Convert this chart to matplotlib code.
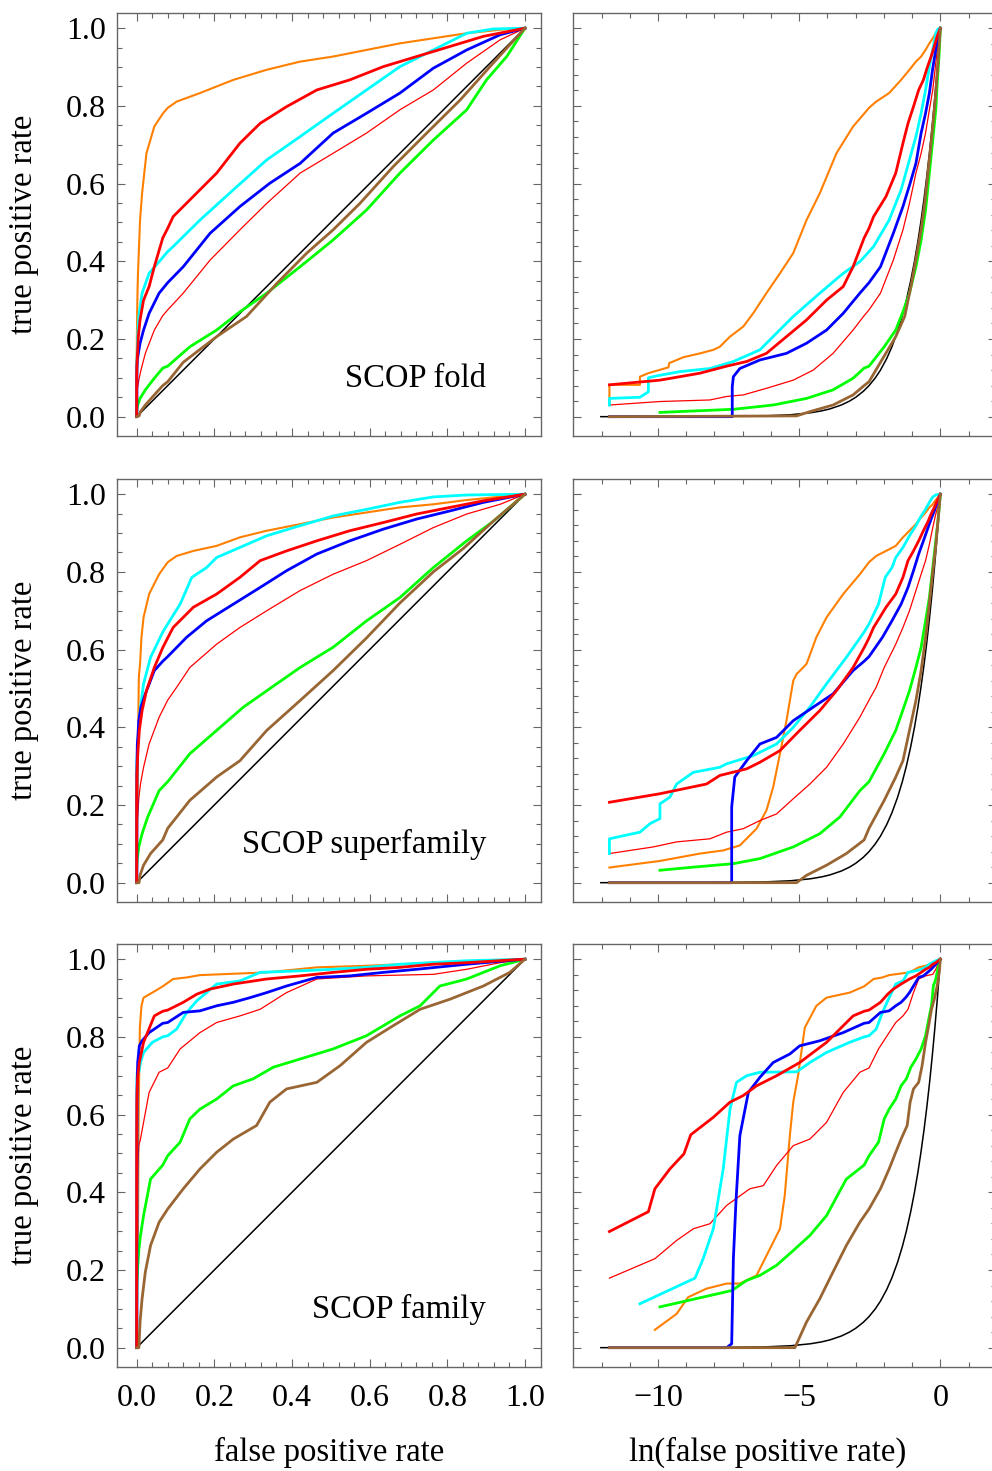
import numpy as np
import matplotlib
matplotlib.use('Agg')
from matplotlib import pyplot as plt
from matplotlib.ticker import FixedLocator, FormatStrFormatter

plt.rcParams['font.family'] = ['Liberation Serif', 'DejaVu Serif']
plt.rcParams['font.size'] = 23

#each curve: low fpr part read on the ln scale (ln, lo), rest read on the linear scale (fpr, tpr)

#SCOP fold
fold_orange_ln = [-11.72, -11.72, -10.64, -10.64, -10.34, -9.63, -9.6, -9.1, -8.51, -8.04, -7.81, -7.45, -6.98, -6.63, -6.16, -5.68, -5.21, -4.74, -4.27, -3.68, -3.09, -2.7]
fold_orange_lo = [0.03, 0.082, 0.082, 0.103, 0.112, 0.127, 0.138, 0.153, 0.163, 0.172, 0.18, 0.206, 0.232, 0.266, 0.318, 0.369, 0.421, 0.506, 0.575, 0.678, 0.747, 0.78]
fold_orange_fpr = [0.08, 0.103, 0.163, 0.249, 0.335, 0.421, 0.506, 0.592, 0.678, 0.764, 0.85, 0.936, 1.0]
fold_orange_tpr = [0.795, 0.811, 0.833, 0.867, 0.893, 0.914, 0.927, 0.944, 0.961, 0.974, 0.987, 0.996, 1.0]

fold_red_ln = [-11.72, -9.93, -8.51, -7.57, -6.86, -6.16, -5.45, -4.74, -4.03, -3.44, -3.09, -2.7]
fold_red_lo = [0.082, 0.094, 0.112, 0.13, 0.142, 0.163, 0.206, 0.249, 0.3, 0.335, 0.386, 0.46]
fold_red_fpr = [0.08, 0.094, 0.146, 0.206, 0.266, 0.318, 0.386, 0.464, 0.549, 0.635, 0.721, 0.807, 0.893, 1.0]
fold_red_tpr = [0.485, 0.515, 0.567, 0.627, 0.704, 0.755, 0.798, 0.841, 0.867, 0.901, 0.927, 0.953, 0.979, 1.0]

fold_cyan_ln = [-11.72, -11.72, -10.64, -10.34, -10.34, -10.05, -9.22, -8.16, -7.33, -6.39, -5.8, -5.21, -4.27, -3.44, -2.85]
fold_cyan_lo = [0.03, 0.047, 0.05, 0.064, 0.1, 0.105, 0.116, 0.124, 0.142, 0.172, 0.215, 0.258, 0.318, 0.369, 0.399]
fold_cyan_fpr = [0.08, 0.094, 0.163, 0.249, 0.335, 0.421, 0.506, 0.592, 0.678, 0.764, 0.85, 0.918, 1.0]
fold_cyan_tpr = [0.425, 0.438, 0.506, 0.584, 0.661, 0.721, 0.781, 0.841, 0.901, 0.944, 0.987, 0.998, 1.0]

fold_blue_ln = [-11.72, -7.37, -7.37, -7.33, -7.1, -6.39, -5.45, -4.74, -4.03, -3.44, -2.85]
fold_blue_lo = [0.0, 0.0, 0.077, 0.103, 0.124, 0.146, 0.163, 0.189, 0.223, 0.266, 0.318]
fold_blue_fpr = [0.08, 0.12, 0.189, 0.266, 0.343, 0.421, 0.506, 0.592, 0.678, 0.764, 0.85, 0.936, 1.0]
fold_blue_tpr = [0.345, 0.386, 0.472, 0.541, 0.601, 0.652, 0.73, 0.781, 0.833, 0.897, 0.944, 0.983, 1.0]

fold_thin_ln = [-11.72, -9.93, -8.16, -7.57, -6.98, -6.16, -5.21, -4.5, -3.8, -3.09, -2.7]
fold_thin_lo = [0.03, 0.039, 0.043, 0.052, 0.056, 0.073, 0.094, 0.12, 0.163, 0.223, 0.26]
fold_thin_fpr = [0.08, 0.12, 0.189, 0.266, 0.335, 0.421, 0.506, 0.592, 0.678, 0.764, 0.85, 0.936, 1.0]
fold_thin_tpr = [0.275, 0.318, 0.403, 0.481, 0.549, 0.627, 0.678, 0.73, 0.79, 0.841, 0.91, 0.97, 1.0]

fold_green_ln = [-9.93, -7.33, -5.92, -4.74, -3.8, -3.09, -2.7]
fold_green_lo = [0.011, 0.019, 0.03, 0.047, 0.069, 0.099, 0.125]
fold_green_fpr = [0.08, 0.137, 0.206, 0.266, 0.335, 0.421, 0.506, 0.592, 0.678, 0.764, 0.85, 0.901, 0.953, 1.0]
fold_green_tpr = [0.13, 0.18, 0.223, 0.27, 0.318, 0.386, 0.455, 0.532, 0.627, 0.712, 0.79, 0.867, 0.927, 1.0]

fold_brown_ln = [-11.72, -5.09, -4.62, -3.8, -3.09, -2.7]
fold_brown_lo = [0.0, 0.002, 0.013, 0.03, 0.056, 0.08]
fold_brown_fpr = [0.08, 0.12, 0.206, 0.283, 0.361, 0.438, 0.506, 0.575, 0.661, 0.747, 0.833, 0.918, 1.0]
fold_brown_tpr = [0.09, 0.14, 0.206, 0.258, 0.343, 0.421, 0.481, 0.549, 0.644, 0.73, 0.815, 0.91, 1.0]

#SCOP superfamily
sf_orange_ln = [-11.72, -9.93, -8.51, -7.69, -7.1, -6.51, -6.16, -5.92, -5.68, -5.45, -5.21, -5.09, -4.74, -4.39, -4.03, -3.44, -2.85]
sf_orange_lo = [0.039, 0.056, 0.075, 0.083, 0.096, 0.139, 0.186, 0.246, 0.332, 0.417, 0.52, 0.537, 0.563, 0.632, 0.683, 0.743, 0.794]
sf_orange_fpr = [0.08, 0.103, 0.146, 0.206, 0.266, 0.335, 0.421, 0.506, 0.592, 0.678, 0.764, 0.85, 1.0]
sf_orange_tpr = [0.825, 0.841, 0.854, 0.867, 0.889, 0.906, 0.923, 0.94, 0.953, 0.966, 0.974, 0.985, 1.0]

sf_red_ln = [-11.72, -9.93, -8.28, -7.81, -6.86, -6.39, -5.68, -4.98, -4.27, -3.68, -3.09, -2.7]
sf_red_lo = [0.207, 0.229, 0.254, 0.276, 0.293, 0.31, 0.34, 0.392, 0.443, 0.494, 0.554, 0.605]
sf_red_fpr = [0.08, 0.094, 0.146, 0.206, 0.266, 0.318, 0.386, 0.464, 0.549, 0.635, 0.721, 0.807, 0.893, 1.0]
sf_red_tpr = [0.63, 0.657, 0.709, 0.743, 0.786, 0.829, 0.854, 0.88, 0.906, 0.927, 0.949, 0.966, 0.983, 1.0]

sf_cyan_ln = [-11.72, -11.72, -10.64, -10.28, -9.93, -9.93, -9.58, -9.34, -8.75, -7.81, -7.57, -6.63, -5.8, -5.21, -4.62, -4.03, -3.33, -2.7]
sf_cyan_lo = [0.075, 0.113, 0.13, 0.152, 0.165, 0.203, 0.22, 0.254, 0.284, 0.297, 0.306, 0.327, 0.357, 0.4, 0.452, 0.512, 0.58, 0.645]
sf_cyan_fpr = [0.08, 0.112, 0.142, 0.18, 0.206, 0.266, 0.335, 0.421, 0.506, 0.592, 0.678, 0.764, 0.85, 1.0]
sf_cyan_tpr = [0.666, 0.717, 0.786, 0.811, 0.837, 0.863, 0.893, 0.919, 0.944, 0.961, 0.979, 0.993, 0.998, 1.0]

sf_blue_ln = [-11.72, -7.39, -7.39, -7.28, -6.86, -6.39, -5.8, -5.21, -4.5, -3.8, -3.09, -2.7]
sf_blue_lo = [0.0, 0.0, 0.195, 0.272, 0.314, 0.357, 0.374, 0.417, 0.452, 0.486, 0.546, 0.57]
sf_blue_fpr = [0.08, 0.129, 0.18, 0.249, 0.318, 0.386, 0.464, 0.549, 0.635, 0.721, 0.807, 0.893, 1.0]
sf_blue_tpr = [0.582, 0.632, 0.674, 0.717, 0.76, 0.803, 0.846, 0.88, 0.91, 0.936, 0.957, 0.979, 1.0]

sf_thin_ln = [-11.72, -10.17, -9.34, -8.16, -7.57, -6.98, -6.39, -5.8, -5.21, -4.62, -4.03, -3.44, -2.85]
sf_thin_lo = [0.075, 0.092, 0.105, 0.113, 0.13, 0.139, 0.16, 0.177, 0.216, 0.254, 0.297, 0.357, 0.426]
sf_thin_fpr = [0.08, 0.103, 0.137, 0.206, 0.266, 0.335, 0.421, 0.506, 0.592, 0.678, 0.764, 0.85, 0.936, 1.0]
sf_thin_tpr = [0.47, 0.503, 0.554, 0.614, 0.657, 0.7, 0.752, 0.794, 0.829, 0.871, 0.914, 0.949, 0.974, 1.0]

sf_green_ln = [-9.93, -8.75, -7.33, -6.39, -5.21, -4.27, -3.56, -2.85]
sf_green_lo = [0.032, 0.04, 0.049, 0.062, 0.092, 0.126, 0.169, 0.237]
sf_green_fpr = [0.08, 0.137, 0.206, 0.275, 0.335, 0.421, 0.506, 0.592, 0.678, 0.764, 0.85, 0.918, 1.0]
sf_green_tpr = [0.26, 0.332, 0.392, 0.452, 0.494, 0.554, 0.606, 0.674, 0.734, 0.811, 0.88, 0.93, 1.0]

sf_brown_ln = [-11.72, -5.09, -4.74, -4.03, -3.33, -2.7]
sf_brown_lo = [0.0, 0.0, 0.019, 0.045, 0.075, 0.11]
sf_brown_fpr = [0.08, 0.137, 0.206, 0.266, 0.335, 0.421, 0.506, 0.592, 0.678, 0.764, 0.841, 0.918, 1.0]
sf_brown_tpr = [0.14, 0.212, 0.272, 0.314, 0.392, 0.469, 0.546, 0.63, 0.72, 0.8, 0.86, 0.93, 1.0]

#SCOP family
fam_orange_ln = [-10.11, -9.34, -8.93, -8.28, -7.57, -7.1, -6.51, -6.04, -5.68, -5.51, -5.33, -5.21, -5.04, -4.8, -4.39, -4.03, -3.21, -2.7]
fam_orange_lo = [0.046, 0.087, 0.13, 0.152, 0.165, 0.165, 0.186, 0.254, 0.306, 0.392, 0.546, 0.632, 0.7, 0.824, 0.88, 0.901, 0.914, 0.93]
fam_orange_fpr = [0.094, 0.129, 0.163, 0.335, 0.464, 0.592, 0.764, 0.936, 1.0]
fam_orange_tpr = [0.949, 0.953, 0.959, 0.966, 0.979, 0.983, 0.991, 0.998, 1.0]

fam_red_ln = [-11.72, -10.34, -10.11, -9.58, -9.08, -8.84, -8.04, -7.45, -6.98, -6.51, -5.8, -4.98, -4.03, -3.09, -2.7]
fam_red_lo = [0.299, 0.35, 0.409, 0.46, 0.499, 0.548, 0.593, 0.632, 0.649, 0.674, 0.7, 0.734, 0.786, 0.854, 0.866]
fam_red_fpr = [0.08, 0.12, 0.155, 0.189, 0.249, 0.335, 0.421, 0.506, 0.592, 0.678, 0.764, 0.85, 1.0]
fam_red_tpr = [0.869, 0.889, 0.91, 0.923, 0.936, 0.949, 0.957, 0.966, 0.974, 0.979, 0.987, 0.991, 1.0]

fam_cyan_ln = [-10.64, -8.69, -8.4, -8.04, -7.69, -7.45, -7.22, -6.86, -6.39, -5.09, -4.62, -4.03, -3.21, -2.7]
fam_cyan_lo = [0.113, 0.179, 0.229, 0.306, 0.46, 0.614, 0.683, 0.7, 0.709, 0.71, 0.734, 0.76, 0.786, 0.8]
fam_cyan_fpr = [0.08, 0.103, 0.129, 0.155, 0.206, 0.266, 0.318, 0.421, 0.506, 0.592, 0.678, 0.85, 1.0]
fam_cyan_tpr = [0.803, 0.82, 0.863, 0.893, 0.936, 0.944, 0.966, 0.97, 0.974, 0.979, 0.987, 0.996, 1.0]

fam_blue_ln = [-11.72, -7.57, -7.39, -7.33, -7.24, -7.1, -6.8, -6.39, -5.92, -5.33, -4.98, -4.27, -3.44, -2.7]
fam_blue_lo = [0.0, 0.0, 0.01, 0.229, 0.374, 0.546, 0.657, 0.696, 0.734, 0.756, 0.777, 0.79, 0.811, 0.835]
fam_blue_fpr = [0.08, 0.12, 0.163, 0.206, 0.249, 0.292, 0.335, 0.386, 0.464, 0.549, 0.635, 0.721, 0.85, 1.0]
fam_blue_tpr = [0.837, 0.863, 0.867, 0.88, 0.889, 0.901, 0.914, 0.931, 0.953, 0.957, 0.966, 0.974, 0.987, 1.0]

fam_thin_ln = [-11.72, -10.11, -9.34, -8.75, -8.16, -7.57, -6.75, -6.27, -5.8, -5.21, -4.62, -4.03, -3.44, -2.85]
fam_thin_lo = [0.179, 0.229, 0.276, 0.306, 0.319, 0.366, 0.409, 0.417, 0.469, 0.52, 0.537, 0.58, 0.657, 0.709]
fam_thin_fpr = [0.08, 0.112, 0.163, 0.206, 0.266, 0.318, 0.386, 0.464, 0.592, 0.764, 0.85, 0.936, 1.0]
fam_thin_tpr = [0.72, 0.769, 0.811, 0.837, 0.854, 0.871, 0.914, 0.949, 0.957, 0.961, 0.974, 0.991, 1.0]

fam_green_ln = [-9.93, -7.39, -6.86, -6.39, -5.8, -5.21, -4.62, -4.03, -3.33, -2.7]
fam_green_lo = [0.105, 0.147, 0.173, 0.186, 0.212, 0.25, 0.289, 0.34, 0.434, 0.47]
fam_green_fpr = [0.08, 0.112, 0.137, 0.163, 0.206, 0.249, 0.3, 0.352, 0.421, 0.506, 0.592, 0.678, 0.73, 0.781, 0.85, 0.936, 1.0]
fam_green_tpr = [0.494, 0.529, 0.589, 0.614, 0.64, 0.674, 0.692, 0.722, 0.743, 0.769, 0.803, 0.854, 0.88, 0.931, 0.949, 0.983, 1.0]

fam_brown_ln = [-11.72, -5.15, -4.74, -4.27, -3.8, -3.33, -2.85]
fam_brown_lo = [0.0, 0.0, 0.066, 0.126, 0.195, 0.263, 0.323]
fam_brown_fpr = [0.08, 0.12, 0.163, 0.206, 0.249, 0.309, 0.343, 0.386, 0.464, 0.524, 0.592, 0.661, 0.73, 0.807, 0.893, 0.961, 1.0]
fam_brown_tpr = [0.357, 0.409, 0.46, 0.503, 0.537, 0.572, 0.632, 0.666, 0.683, 0.726, 0.786, 0.829, 0.871, 0.897, 0.931, 0.966, 1.0]

#random ranking: tpr equals fpr
diag_fpr = [0.0, 0.000006, 0.0003, 0.002, 0.005, 0.01, 0.015, 0.02, 0.03, 0.04, 0.05, 0.065, 0.08, 0.1, 0.12, 0.15, 0.18, 0.22, 0.26, 0.3, 0.35, 0.4, 0.45, 0.5, 0.56, 0.62, 0.68, 0.75, 0.82, 0.9, 0.95, 1.0]
diag_tpr = list(diag_fpr)

panel_titles = ['SCOP fold', 'SCOP superfamily', 'SCOP family']

#drawing order, colours, widths
names = ['orange', 'thin', 'green', 'cyan', 'blue', 'red', 'brown']
colors = {'orange': '#ff8000', 'thin': '#ff0000', 'green': '#00ff00', 'cyan': '#00ffff',
          'blue': '#0000ff', 'red': '#ff0000', 'brown': '#996633'}
widths = {'orange': 1.5, 'thin': 0.9, 'green': 2.0, 'cyan': 2.0, 'blue': 2.0, 'red': 2.0, 'brown': 2.0}

rows = []
for prefix in ['fold', 'sf', 'fam']:
    g = globals()
    rows.append({n: (g['%s_%s_ln' % (prefix, n)], g['%s_%s_lo' % (prefix, n)],
                     g['%s_%s_fpr' % (prefix, n)], g['%s_%s_tpr' % (prefix, n)]) for n in names})

def joinCurve(ln, lo, fpr, tpr):
    x = np.concatenate([[0.0], np.exp(ln), fpr])
    y = np.concatenate([[0.0], lo, tpr])
    return x, y

frame = '#666666'

def styleAx(ax):
    ax.set_ylim(-0.049, 1.04)
    ax.yaxis.set_major_locator(FixedLocator([0, 0.2, 0.4, 0.6, 0.8, 1.0]))
    ax.yaxis.set_major_formatter(FormatStrFormatter('%.1f'))
    ax.tick_params(which='both', direction='in', top=True, right=True, color=frame,
                   width=0.8, labelsize=23)
    ax.tick_params(axis='y', pad=7.5)
    ax.tick_params(axis='x', pad=12.5)
    ax.tick_params(which='major', length=5.5)
    ax.tick_params(which='minor', length=3.6)
    for s in ax.spines.values():
        s.set_color(frame)
        s.set_linewidth(1.0)

fig = plt.figure(figsize=(9.92, 14.71), dpi=100)
bottoms = [0.7038, 0.3870, 0.0709]

for i, curves in enumerate(rows):
    axL = fig.add_axes([0.1176, bottoms[i], 0.4274, 0.2876])
    axR = fig.add_axes([0.5779, bottoms[i], 0.4264, 0.2876])

    #black reference
    dx = np.array(diag_fpr)
    dy = np.array(diag_tpr)
    axL.plot(dx, dy, color='black', lw=1.1)
    axR.plot(np.log(dx[1:]), dy[1:], color='black', lw=1.1)

    for n in names:
        x, y = joinCurve(*curves[n])
        axL.plot(x, y, color=colors[n], lw=widths[n], solid_joinstyle='round')
        axR.plot(np.log(x[1:]), y[1:], color=colors[n], lw=widths[n], solid_joinstyle='round')

    axL.text(0.9, 0.076, panel_titles[i], ha='right', va='baseline', fontsize=23.5)

    styleAx(axL)
    axL.set_xlim(-0.0515, 1.0404)
    axL.xaxis.set_major_locator(FixedLocator([0, 0.2, 0.4, 0.6, 0.8, 1.0]))
    axL.xaxis.set_major_formatter(FormatStrFormatter('%.1f'))
    axL.xaxis.set_minor_locator(FixedLocator(np.linspace(0, 1, 26)))
    axL.yaxis.set_minor_locator(FixedLocator(np.linspace(0, 1, 21)))

    styleAx(axR)
    axR.set_xlim(-13.0, 1.98)
    axR.xaxis.set_major_locator(FixedLocator([-10, -5, 0]))
    axR.xaxis.set_minor_locator(FixedLocator(range(-12, 2)))
    axR.yaxis.set_minor_locator(FixedLocator(np.linspace(0, 1, 26)))
    axR.tick_params(labelleft=False)

    if i < 2:
        axL.tick_params(labelbottom=False)
        axR.tick_params(labelbottom=False)

    #y label centred on each row
    fig.text(24/992, bottoms[i] + 0.2876/2, 'true positive rate', rotation=90,
             ha='center', va='center', fontsize=23.5)

fig.text(329/992, 1 - 1452/1471, 'false positive rate', ha='center', va='center', fontsize=23.5)
fig.text(768/992, 1 - 1452/1471, 'ln(false positive rate)', ha='center', va='center', fontsize=23.5)

fig.savefig('out.png', dpi=100)
